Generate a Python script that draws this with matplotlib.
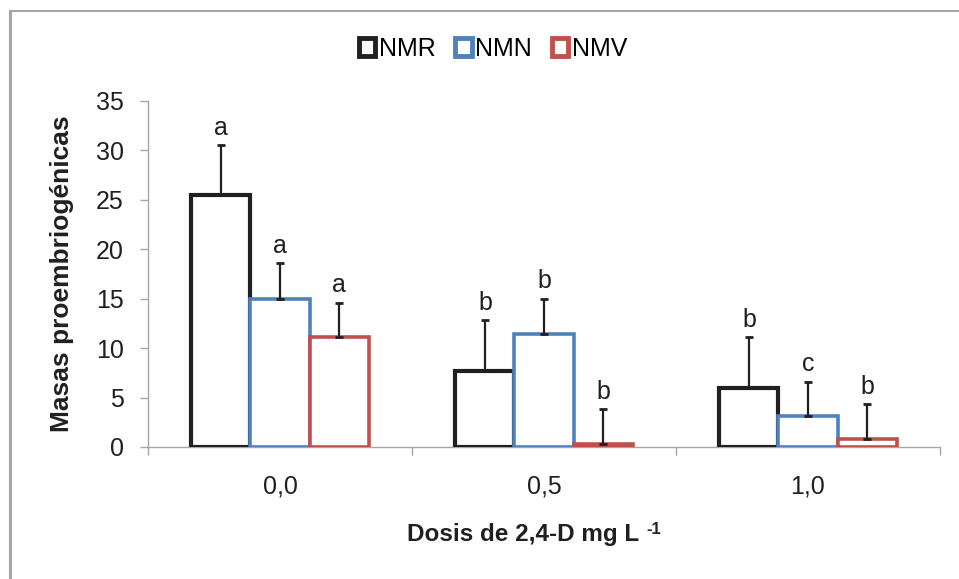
import matplotlib
matplotlib.use('Agg')
import matplotlib.pyplot as plt
from matplotlib.lines import Line2D
from matplotlib.patches import Rectangle
import numpy as np

plt.rcParams['font.family'] = ['Liberation Sans', 'DejaVu Sans']

# Datos: masas proembriogénicas por dosis de 2,4-D
dosis   = ['0,0', '0,5', '1,0']
series  = ['NMR', 'NMN', 'NMV']
medias  = {
    'NMR': [25.5, 7.7, 6.0],
    'NMN': [15.0, 11.4, 3.1],
    'NMV': [11.1, 0.35, 0.8],
}
errores = {
    'NMR': [5.0, 5.1, 5.1],
    'NMN': [3.6, 3.6, 3.5],
    'NMV': [3.5, 3.5, 3.5],
}
letras  = {
    'NMR': ['a', 'b', 'b'],
    'NMN': ['a', 'b', 'c'],
    'NMV': ['a', 'b', 'b'],
}

colores = {'NMR': '#231F20', 'NMN': '#4F81BD', 'NMV': '#C0504D'}
grosor  = {'NMR': 3.0, 'NMN': 2.6, 'NMV': 2.6}
gris = '#A6A6A6'
texto = '#231F20'

fig = plt.figure(figsize=(9.59, 5.79), dpi=100)
ax = fig.add_axes([148/959, 1-447/579, (940-148)/959, (447-101)/579])

x = np.arange(len(dosis))
w = 0.2235
for j, s in enumerate(series):
    xs = x + (j - 1) * w
    ax.bar(xs, medias[s], w, facecolor='white', edgecolor=colores[s],
           linewidth=grosor[s], zorder=3)
    ax.errorbar(xs, medias[s], yerr=[np.zeros(len(x)), errores[s]], fmt='none',
                ecolor=texto, elinewidth=1.6, capsize=3.2, capthick=2.0, zorder=4)
    for xi, m, e, l in zip(xs, medias[s], errores[s], letras[s]):
        ax.annotate(l, xy=(xi, m + e), xytext=(0, 7.5), textcoords='offset points',
                    ha='center', va='baseline', fontsize=18, color=texto)

ax.set_xlim(-0.5, 2.5)
ax.set_ylim(0, 35)
ax.set_yticks(range(0, 36, 5))

# ticks en los límites de cada categoría, etiquetas en el centro
ax.set_xticks([-0.5, 0.5, 1.5, 2.5])
ax.set_xticklabels([])
ax.set_xticks(x, minor=True)
ax.set_xticklabels(dosis, minor=True)
ax.tick_params(axis='x', which='major', direction='out', length=5.5, width=1.0, color=gris)
ax.tick_params(axis='x', which='minor', length=0, pad=20, labelsize=18, labelcolor=texto)
ax.tick_params(axis='y', direction='out', length=5.5, width=1.0, color=gris,
               pad=12, labelsize=18, labelcolor=texto)

for side in ['top', 'right']:
    ax.spines[side].set_visible(False)
for side in ['left', 'bottom']:
    ax.spines[side].set_color(gris)
    ax.spines[side].set_linewidth(1.0)

ax.set_ylabel('Masas proembriogénicas', fontsize=19, fontweight='bold',
              color=texto, va='center')
ax.yaxis.set_label_coords(-0.1086, 0.5)
ax.set_xlabel('Dosis de 2,4-D mg L', fontsize=17.5, fontweight='bold',
              color=texto, va='center')
ax.xaxis.set_label_coords(0.474, -0.254)
# exponente -1 junto a la unidad
ax.annotate('-1', xy=(1, 1), xycoords=ax.xaxis.label, xytext=(5, 1),
            textcoords='offset points', ha='left', va='top', fontsize=12,
            fontweight='bold', color=texto)

handles = [Rectangle((0, 0), 1, 1, facecolor='white', edgecolor=colores[s],
                     linewidth=3.5) for s in series]
fig.legend(handles, series, loc='center', bbox_to_anchor=(493/959, 1-48.7/579),
           ncol=3, frameon=False, fontsize=18, handlelength=0.65, handleheight=0.7,
           handletextpad=0.15, columnspacing=0.8, borderaxespad=0)

# borde del gráfico
yb = 1 - 11/579
fig.add_artist(Line2D([10/959, 10/959], [0, yb], transform=fig.transFigure,
                      color=gris, lw=2.2))
fig.add_artist(Line2D([10/959, 1], [yb, yb], transform=fig.transFigure,
                      color=gris, lw=1.5))

fig.savefig('out.png', dpi=100, facecolor='white')
